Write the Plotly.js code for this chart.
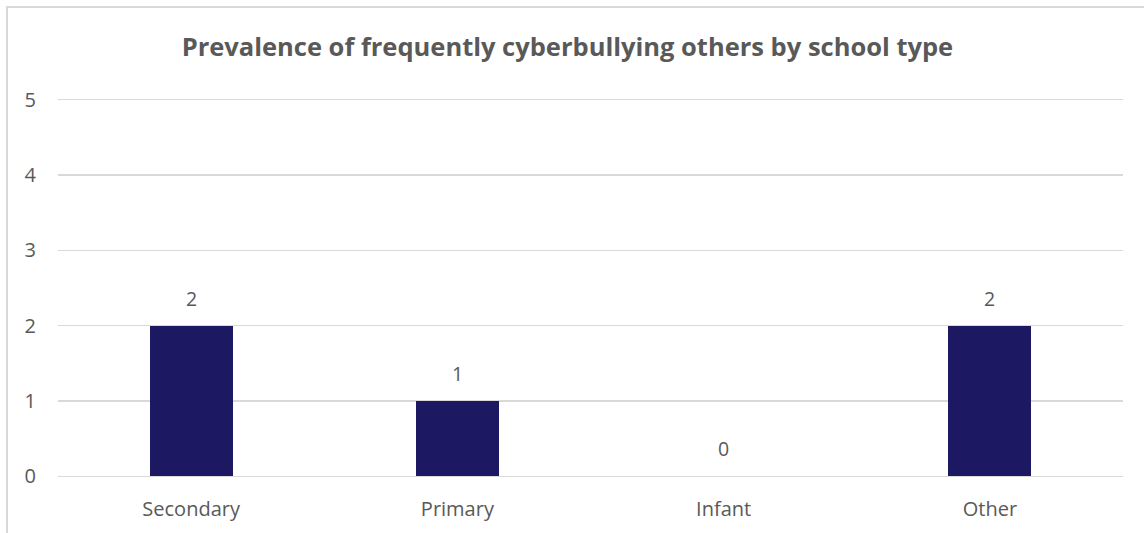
<!DOCTYPE html>
<html><head><meta charset="utf-8">
<script src="https://cdn.plot.ly/plotly-3.0.1.min.js"></script>
<style>
html,body{margin:0;padding:0;background:#fff;overflow:hidden;}
#frame{position:absolute;left:6px;top:6px;width:1300px;height:700px;border:2px solid #d9d9d9;box-sizing:border-box;}
#chart{position:absolute;left:0;top:0;width:1144px;height:533px;}
</style></head>
<body>
<div id="frame"></div>
<div id="chart"></div>
<script>
const categories = ["Secondary", "Primary", "Infant", "Other"];
const values = [2, 1, 0, 2];
const titleText = "Prevalence of frequently cyberbullying others by school type";
const yTicks = [0, 1, 2, 3, 4, 5];

const font = "'Open Sans', 'Noto Sans', sans-serif";
const grey = "#595959";

const trace = {
  type: "bar",
  x: categories,
  y: values,
  width: 0.312,
  marker: {color: "#1c1862", line: {width: 0}},
  hoverinfo: "none"
};

const annotations = categories.map((c, i) => ({
  x: c, y: values[i], xref: "x", yref: "y",
  text: String(values[i]), showarrow: false,
  yanchor: "bottom", yshift: 12,
  font: {family: font, size: 19.5, color: grey}
}));

const layout = {
  width: 1144, height: 533,
  margin: {l: 58, r: 20.5, t: 97.5, b: 54.5},
  paper_bgcolor: "rgba(0,0,0,0)",
  plot_bgcolor: "rgba(0,0,0,0)",
  showlegend: false,
  title: {text: "<b>" + titleText + "</b>", x: 0.496, xanchor: "center", y: 0.912, yanchor: "middle",
          font: {family: font, size: 25.5, color: grey}},
  xaxis: {type: "category", showgrid: false, zeroline: false, showline: false, ticks: "",
          tickfont: {family: font, size: 20, color: grey}, ticklabelstandoff: 17, fixedrange: true},
  yaxis: {range: [-0.02, 5.02], tickvals: yTicks, showgrid: true, gridcolor: "#d9d9d9", gridwidth: 1.5,
          zeroline: false, showline: false, ticks: "",
          tickfont: {family: font, size: 20, color: grey}, ticklabelstandoff: 21, fixedrange: true},
  annotations: annotations,
  bargap: 0
};

Plotly.newPlot("chart", [trace], layout, {displayModeBar: false, staticPlot: true});
</script>
</body></html>
